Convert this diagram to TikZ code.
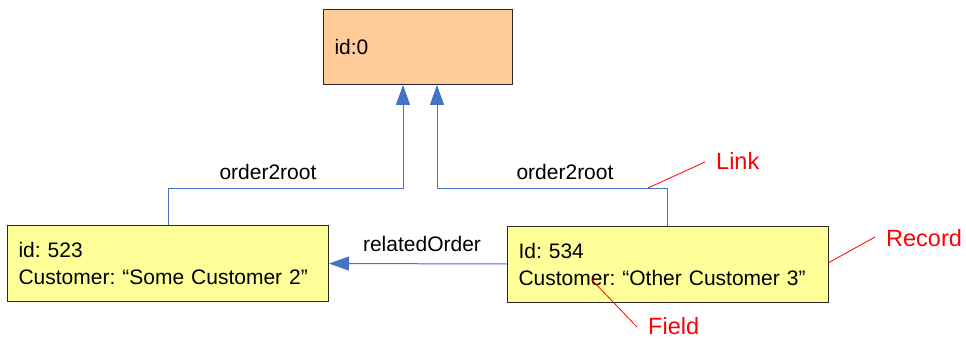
\documentclass[tikz,border=0pt]{standalone}
\usepackage{fontspec}
\setmainfont{Liberation Sans}
\frenchspacing
\usetikzlibrary{arrows.meta}
\definecolor{linkblue}{RGB}{68,114,196}
\definecolor{rootfill}{RGB}{255,204,153}
\definecolor{recfill}{RGB}{255,255,153}
\definecolor{border}{RGB}{40,40,40}
\tikzset{
  box/.style={draw=border, line width=1pt, rectangle, anchor=north west, inner xsep=11pt, inner ysep=0pt, align=left, font=\fontsize{21}{27}\selectfont},
  rootbox/.style={box, fill=rootfill, minimum width=189pt, minimum height=75pt, text width=167pt},
  recbox/.style={box, fill=recfill, minimum width=321pt, minimum height=76pt, text width=299pt},
  link/.style={draw=linkblue, line width=1pt, -{Triangle[length=20pt,width=14pt,fill=linkblue]}},
  linklabel/.style={anchor=base, inner sep=0pt, font=\fontsize{21}{25}\selectfont},
  note/.style={anchor=base west, inner sep=0pt, text=red, font=\fontsize{23.5}{28}\selectfont},
  noteline/.style={draw=red, line width=0.8pt}
}
\begin{document}
\begin{tikzpicture}[x=1pt,y=-1pt]
\useasboundingbox (0,0) rectangle (966,342);
\node[rootbox] (root) at (323,9) {id:0};
\node[recbox] (left) at (7,225) {id: 523\\Customer: “Some Customer 2”};
\node[recbox] (right) at (507,225.5) {Id: 534\\Customer: “Other Customer 3”};
\coordinate (cl) at (168,188);
\coordinate (al) at (403,188);
\coordinate (ar) at (437,188);
\coordinate (cr) at (667,188);
\draw[link] (left.north -| cl) -- (cl) -- (al) -- (root.south -| al);
\draw[link] (right.north -| cr) -- (cr) -- (ar) -- (root.south -| ar);
\draw[link] (right.west) -- (left.east);
\node[linklabel] (l1) at (268,179) {order2root};
\node[linklabel] (l2) at (565,179) {order2root};
\node[linklabel] (l3) at (422,251) {relatedOrder};
\node[note] (nlink) at (716,169) {Link};
\node[note] (nrec) at (886,246) {Record};
\node[note] (nfield) at (648,334) {Field};
\coordinate (plink) at (648,188);
\coordinate (prec) at (828,263);
\coordinate (pfield) at (592,280);
\draw[noteline] (705,162) -- (plink);
\draw[noteline] (875,237) -- (prec);
\draw[noteline] (637,327) -- (pfield);
\end{tikzpicture}
\end{document}
